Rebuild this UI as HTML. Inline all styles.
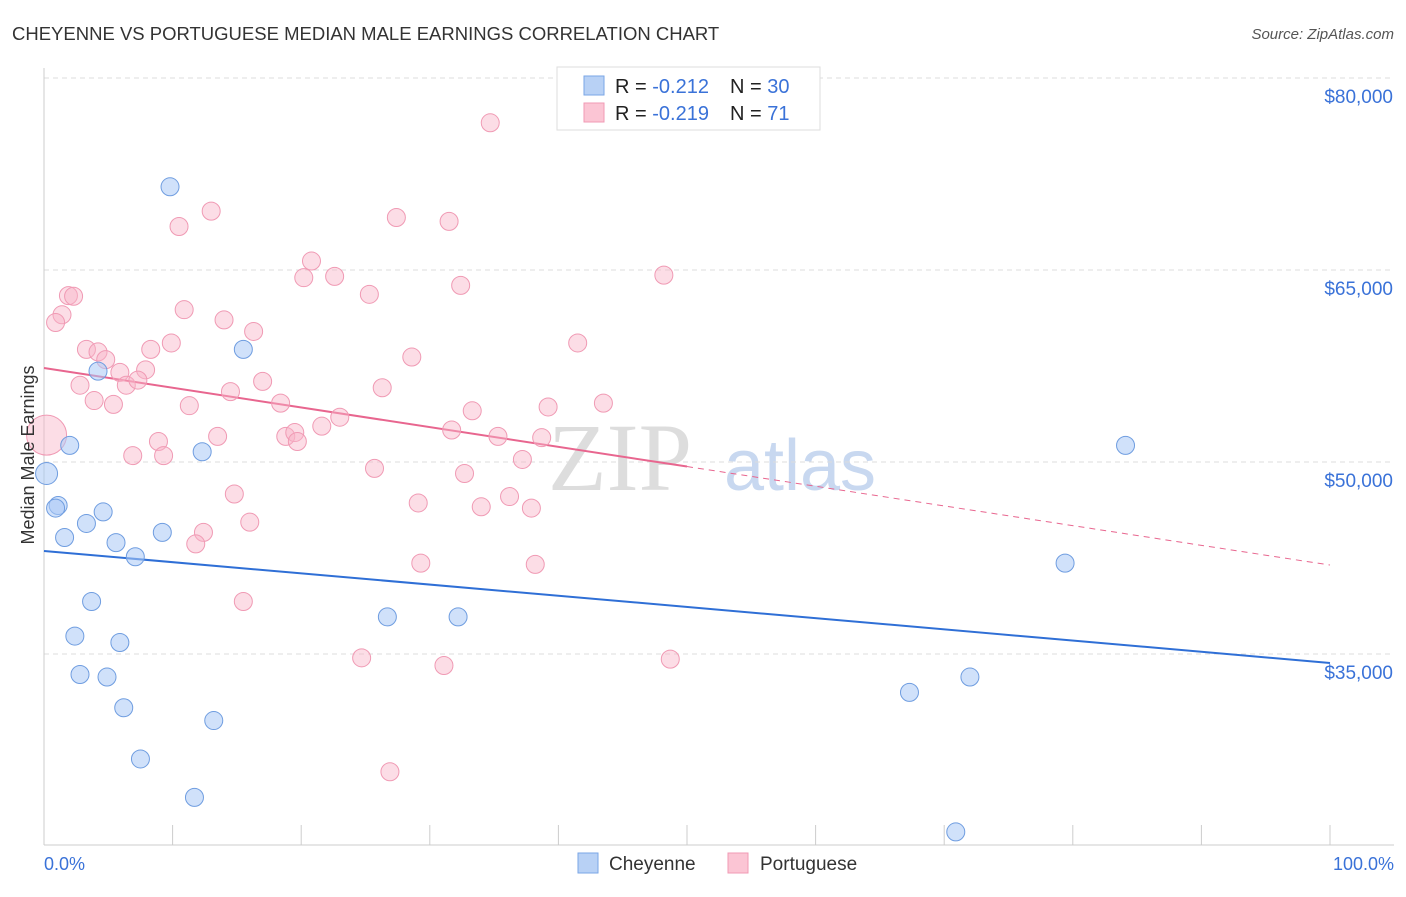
<!DOCTYPE html>
<html><head><meta charset="utf-8"><style>
body{margin:0;background:#fff;font-family:"Liberation Sans",sans-serif;}
</style></head><body>
<svg id="chart" width="1406" height="892" xmlns="http://www.w3.org/2000/svg" font-family="Liberation Sans, sans-serif">
<text x="12" y="40" font-size="18.5" fill="#333">CHEYENNE VS PORTUGUESE MEDIAN MALE EARNINGS CORRELATION CHART</text>
<text x="1394" y="39" font-size="15" fill="#555" font-style="italic" text-anchor="end">Source: ZipAtlas.com</text>
<text x="620" y="490" font-size="96" fill="#ddd" font-family="Liberation Serif, serif" text-anchor="middle">ZIP</text>
<text x="800" y="490" font-size="72" fill="#c8d8f0" text-anchor="middle">atlas</text>
<g id="grid"></g>
<g id="axes"></g>
<g id="lines"></g>
<g id="points"></g>
<text transform="translate(34,455) rotate(-90)" font-size="18" fill="#333" text-anchor="middle">Median Male Earnings</text>
<g>
<rect x="557" y="67" width="263" height="63" fill="#fff" stroke="#ddd"/>
<rect x="584" y="76" width="20" height="19" fill="#b8d1f5" stroke="#7aa6e6"/>
<rect x="584" y="103" width="20" height="19" fill="#fbc5d4" stroke="#f09ab4"/>
<text x="615" y="93" font-size="20" fill="#222">R = <tspan fill="#3a72d8">-0.212</tspan><tspan x="730">N = </tspan><tspan fill="#3a72d8">30</tspan></text>
<text x="615" y="120" font-size="20" fill="#222">R = <tspan fill="#3a72d8">-0.219</tspan><tspan x="730">N = </tspan><tspan fill="#3a72d8"> 71</tspan></text>
</g>
<g>
<rect x="578" y="853" width="20" height="20" fill="#b8d1f5" stroke="#7aa6e6"/>
<text x="609" y="870" font-size="19" fill="#333">Cheyenne</text>
<rect x="728" y="853" width="20" height="20" fill="#fbc5d4" stroke="#f09ab4"/>
<text x="760" y="870" font-size="19" fill="#333">Portuguese</text>
</g>
<text x="44" y="870" font-size="18" fill="#3a72d8">0.0%</text>
<text x="1394" y="870" font-size="18" fill="#3a72d8" text-anchor="end">100.0%</text>
</svg>
<script>
const yTicks=[35000,50000,65000,80000];
const yTickLabels=["$35,000","$50,000","$65,000","$80,000"];
const cheyX=[9.8,15.5,4.2,2.0,12.3,0.2,1.1,0.9,4.6,3.3,1.6,9.2,5.6,7.1,3.7,2.4,5.9,2.8,4.9,6.2,13.2,7.5,11.7,26.7,32.2,84.1,79.4,67.3,72.0,70.9];
const cheyY=[71500,58800,57100,51300,50800,49100,46600,46400,46100,45200,44100,44500,43700,42600,39100,36400,35900,33400,33200,30800,29800,26800,23800,37900,37900,51300,42100,32000,33200,21100];
const portX=[34.7,13.0,27.4,31.5,10.5,20.8,20.2,22.6,48.2,32.4,1.9,2.3,25.3,10.9,1.4,0.9,14.0,16.3,9.9,41.5,3.3,8.3,4.2,4.8,28.6,7.9,5.9,17.0,2.8,6.4,7.3,26.3,14.5,3.9,5.4,11.3,18.4,39.2,43.5,33.3,23.0,21.6,31.7,13.5,18.8,19.5,35.3,38.7,8.9,19.7,6.9,9.3,37.2,25.7,32.7,14.8,36.2,29.1,34.0,37.9,16.0,12.4,11.8,29.3,38.2,15.5,24.7,31.1,48.7,26.9,0.2];
const portY=[76500,69600,69100,68800,68400,65700,64400,64500,64600,63800,63000,62950,63100,61900,61500,60900,61100,60200,59300,59300,58800,58800,58600,58000,58200,57200,57000,56300,56000,56000,56400,55800,55500,54800,54500,54400,54600,54300,54600,54000,53500,52800,52500,52000,52000,52300,52000,51900,51600,51600,50500,50500,50200,49500,49100,47500,47300,46800,46500,46400,45300,44500,43600,42100,42000,39100,34700,34100,34600,25800,52100];
const cheyTrend=[43050,34300];
const portTrend=[57340,41950];
const NS="http://www.w3.org/2000/svg";
const X=p=>44+p*12.86;
const Y=v=>462-(v-50000)*0.0128;
function mk(tag,attrs,parent){const e=document.createElementNS(NS,tag);for(const k in attrs)e.setAttribute(k,attrs[k]);document.getElementById(parent).appendChild(e);return e;}
let e;
yTicks.forEach((t,i)=>{
 const g=mk('line',{x1:44,y1:Y(t),x2:1394,y2:Y(t),stroke:'#ddd','stroke-dasharray':'5,4'},'grid');
 
 
 const l=mk('text',{x:1393,y:Y(t)+25,'font-size':19,fill:'#3a72d8','text-anchor':'end'},'grid');
 l.textContent=yTickLabels[i];
 
 
});
e=mk('line',{x1:44,y1:68,x2:44,y2:845,stroke:'#ccc'},'axes');


e=mk('line',{x1:44,y1:845,x2:1394,y2:845,stroke:'#ccc'},'axes');


for(let i=0;i<=10;i++){
 const t=mk('line',{x1:X(i*10),y1:825,x2:X(i*10),y2:845,stroke:'#ccc'},'axes');
 
 
}
const cv=p=>cheyTrend[0]+(cheyTrend[1]-cheyTrend[0])*p/100;
const pv=p=>portTrend[0]+(portTrend[1]-portTrend[0])*p/100;
e=mk('line',{x1:X(0),y1:Y(cv(0)),x2:X(100),y2:Y(cv(100)),stroke:'#2f6fd6','stroke-width':2},'lines');


e=mk('line',{x1:X(0),y1:Y(pv(0)),x2:X(50),y2:Y(pv(50)),stroke:'#e8668f','stroke-width':2},'lines');


e=mk('line',{x1:X(50),y1:Y(pv(50)),x2:X(100),y2:Y(pv(100)),stroke:'#e8668f','stroke-width':1,'stroke-dasharray':'6,5'},'lines');


portX.forEach((x,i)=>{
 const big=i===portX.length-1;
 const c=mk('circle',{cx:X(x),cy:Y(portY[i]),r:big?20:9,fill:'rgba(248,180,200,0.45)',stroke:'#f09ab4','stroke-width':1},'points');
 
 
});
cheyX.forEach((x,i)=>{
 const c=mk('circle',{cx:X(x),cy:Y(cheyY[i]),r:i===5?11:9,fill:'rgba(170,200,245,0.55)',stroke:'#6f9de0','stroke-width':1},'points');
 
 
});
</script>
</body></html>
